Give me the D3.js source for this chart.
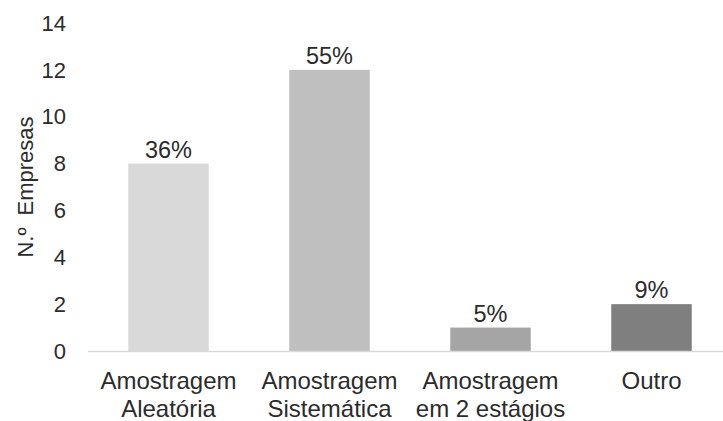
<!DOCTYPE html>
<html>
<head>
<meta charset="utf-8">
<script src="https://cdn.jsdelivr.net/npm/d3@7"></script>
<style>
  html, body { margin: 0; padding: 0; background: #fff; }
  text { font-family: "Liberation Sans", Arial, sans-serif; fill: #2b2b2b; }
</style>
</head>
<body>
<svg id="chart" width="723" height="421"></svg>
<script>
// Sampling methods used by the companies
const categories = [["Amostragem", "Aleatória"], ["Amostragem", "Sistemática"], ["Amostragem", "em 2 estágios"], ["Outro"]];
const counts = [8, 12, 1, 2];
const shares = ["36%", "55%", "5%", "9%"];
const barColors = ["#d9d9d9", "#bfbfbf", "#a5a5a5", "#7f7f7f"];
const yTicks = [0, 2, 4, 6, 8, 10, 12, 14];

const svg = d3.select("#chart");
const x = d3.scaleBand().domain(d3.range(categories.length)).range([88, 732]).paddingInner(0.5).paddingOuter(0.25);
const y = d3.scaleLinear().domain([0, 14]).range([351, 23]);

// y tick labels (no axis line or tick marks)
svg.append("g").selectAll("text").data(yTicks).join("text")
  .attr("x", 66).attr("y", d => y(d)).attr("dy", "0.35em")
  .attr("text-anchor", "end").style("font-size", "22px")
  .text(d => d);

// bars
svg.append("g").selectAll("rect").data(counts).join("rect")
  .attr("x", (d, i) => x(i)).attr("width", x.bandwidth())
  .attr("y", d => y(d)).attr("height", d => y(0) - y(d))
  .attr("fill", (d, i) => barColors[i]);

// baseline
svg.append("line").attr("x1", 88).attr("x2", 732)
  .attr("y1", y(0) + 0.5).attr("y2", y(0) + 0.5)
  .attr("stroke", "#d9d9d9").attr("stroke-width", 1.5);

// value labels
svg.append("g").selectAll("text").data(counts).join("text")
  .attr("x", (d, i) => x(i) + x.bandwidth() / 2).attr("y", d => y(d) - 6)
  .attr("text-anchor", "middle").style("font-size", "23.5px")
  .text((d, i) => shares[i]);

// category labels
const cat = svg.append("g").selectAll("text").data(categories).join("text")
  .attr("text-anchor", "middle").style("font-size", "24px")
  .attr("transform", (d, i) => `translate(${x(i) + x.bandwidth() / 2},389)`);
cat.selectAll("tspan").data(d => d).join("tspan")
  .attr("x", 0).attr("dy", (d, j) => j === 0 ? 0 : 28).text(d => d);

// y axis title
svg.append("text")
  .attr("transform", `translate(33,${(y(0) + y(14)) / 2}) rotate(-90)`)
  .attr("text-anchor", "middle").style("font-size", "22px")
  .style("word-spacing", "6px")
  .text("N.º Empresas");
</script>
</body>
</html>
